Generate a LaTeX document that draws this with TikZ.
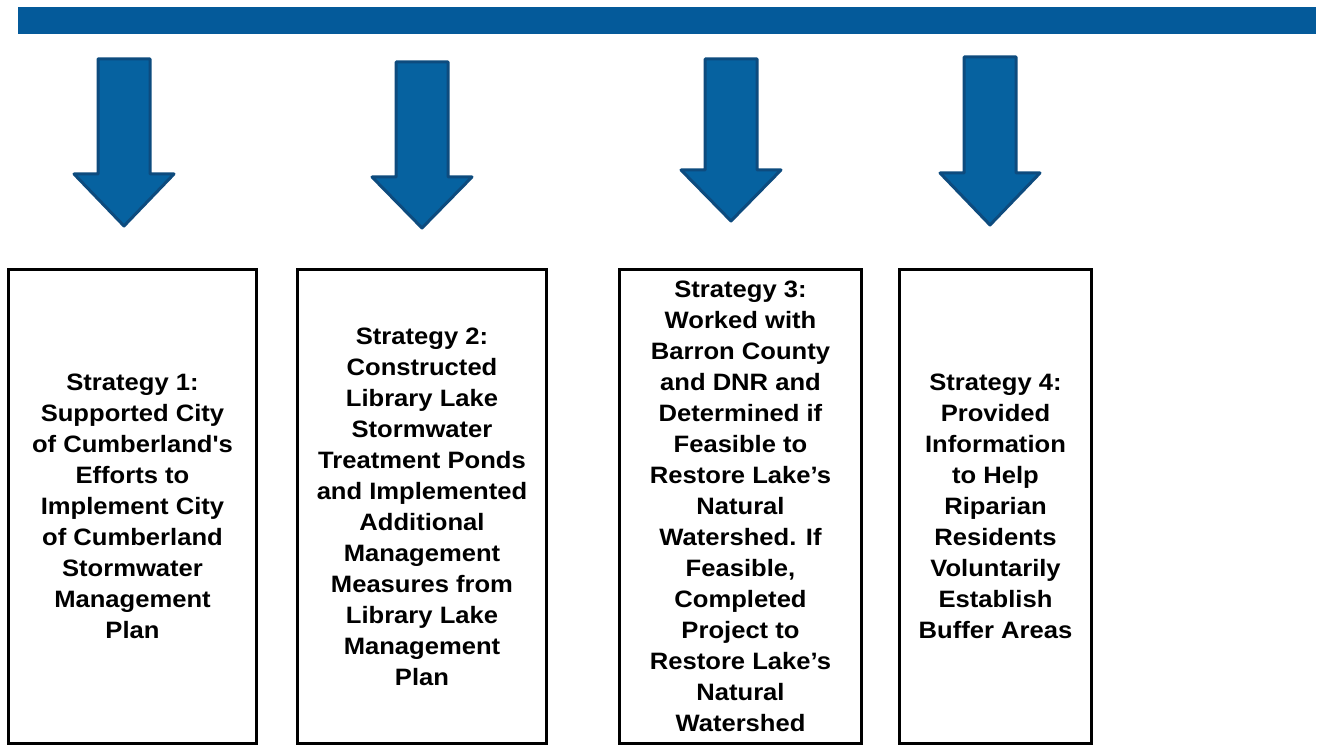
\documentclass[tikz,border=0pt]{standalone}
\usepackage{fontspec}
\setmainfont{Liberation Sans}
\newfontfamily\stratfont{Liberation Sans}[FakeStretch=1.08]
\definecolor{barblue}{HTML}{045A9A}
\definecolor{arrowfill}{HTML}{0662A0}
\definecolor{arrowline}{HTML}{0D4B7E}
\begin{document}
\begin{tikzpicture}[x=1pt,y=-1pt,
    stratbox/.style={draw,line width=3pt,inner sep=0pt,align=center,
        font=\stratfont\bfseries\fontsize{23.7}{31}\selectfont},
    blockarrow/.style={fill=arrowfill,draw=arrowline,line width=3pt,line join=round}]
    \useasboundingbox (0,0) rectangle (1321,746);
    \fill[barblue] (18,7) rectangle (1316,34);
    % arrows: centre x, top, head y, tip y
    \foreach \cx/\top/\hd/\tip in {124/59/174/226, 422/62/177/228, 731/59/170/221, 990/57/173/225}
        \draw[blockarrow] (\cx-26,\top) -- (\cx+26,\top) -- (\cx+26,\hd) -- (\cx+50,\hd)
            -- (\cx,\tip) -- (\cx-50,\hd) -- (\cx-26,\hd) -- cycle;
    \node[stratbox,minimum width=248,minimum height=474] (s1) at (132.5,506.5)
        {Strategy 1:\\Supported City\\of Cumberland's\\Efforts to\\Implement City\\of Cumberland\\Stormwater\\Management\\Plan};
    \node[stratbox,minimum width=249,minimum height=474] (s2) at (422,506.5)
        {Strategy 2:\\Constructed\\Library Lake\\Stormwater\\Treatment Ponds\\and Implemented\\Additional\\Management\\Measures from\\Library Lake\\Management\\Plan};
    \node[stratbox,minimum width=242,minimum height=474] (s3) at (740.5,506.5)
        {Strategy 3:\\Worked with\\Barron County\\and DNR and\\Determined if\\Feasible to\\Restore Lake’s\\Natural\\Watershed. If\\Feasible,\\Completed\\Project to\\Restore Lake’s\\Natural\\Watershed};
    \node[stratbox,minimum width=192,minimum height=474] (s4) at (995.5,506.5)
        {Strategy 4:\\Provided\\Information\\to Help\\Riparian\\Residents\\Voluntarily\\Establish\\Buffer Areas};
\end{tikzpicture}
\end{document}
